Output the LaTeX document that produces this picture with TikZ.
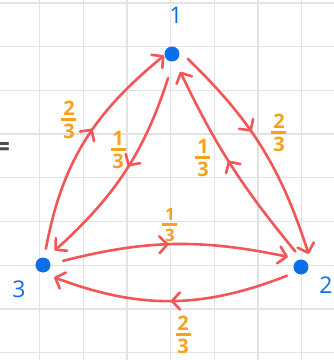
\documentclass[tikz,border=0pt]{standalone}
\usepackage{fontspec}
\setmainfont{Open Sans}
\usepackage{xcolor}
\usepackage{tikz}
\usetikzlibrary{arrows.meta,positioning,decorations.markings}

\definecolor{edgered}{HTML}{F25757}
\definecolor{fracorange}{HTML}{F7A21B}
\definecolor{dotblue}{HTML}{0A6FE8}
\definecolor{gridgray}{HTML}{E3E3E3}

\newcommand{\frc}[2]{$\vcenter{\hbox to 15pt{\hss#1\hss}\kern2.5pt\hrule height 2.4pt\kern3pt\hbox to 15pt{\hss#2\hss}}$}

\begin{document}
\begin{tikzpicture}[
  x=1pt, y=1pt,
  dot/.style={circle, fill=dotblue, minimum size=15pt, inner sep=0pt, outer sep=9pt},
  num/.style={text=dotblue, font=\fontsize{23}{24}\selectfont},
  frac/.style={text=fracorange, font=\fontsize{20}{24}\selectfont\bfseries, inner sep=0pt},
  edge/.style={draw=edgered, line width=2.6pt, line cap=round, -{Straight Barb[length=8pt,width=17pt,round]}},
  midarr/.style={postaction={decorate, decoration={markings, mark=at position #1 with {\arrow{Straight Barb[length=8pt,width=17pt,round]}}}}},
  midarr/.default=0.5,
  gridline/.style={draw=gridgray, line width=1.3pt}
]
\useasboundingbox (0,0) rectangle (334,360);
\clip (0,0) rectangle (334,360);
\fill[white] (0,0) rectangle (334,360);

% grid paper
\foreach \gx in {39.6,83.3,127,170.7,214.4,258.1,301.8}
  \draw[gridline] (\gx,0) -- (\gx,360);
\foreach \gy in {7.4,51.1,94.8,138.5,182.2,225.9,269.6,313.3,357}
  \draw[gridline] (0,\gy) -- (334,\gy);

\node[text=black!70, font=\fontsize{28}{28}\selectfont\bfseries] (eq) at (2,211) {=};

% states
\node[dot] (n1) at (172,306) {};
\node[dot] (n2) at (301,93) {};
\node[dot] (n3) at (43,95) {};
\node[num] (t1) at (176,345) {1};
\node[num] (t2) at (326,75) {2};
\node[num] (t3) at (19,71) {3};

% transitions
\draw[edge, midarr=0.58, shorten >=-9pt] (n3.80) to[bend left=20] (n1.206);
\draw[edge, midarr=0.48, shorten <=8pt, shorten >=2pt] (n1.265) to[bend left=15] (n3.52);
\draw[edge, midarr=0.42, shorten >=-2pt] (n1.-17) to[bend left=14] (n2.65);
\draw[edge, midarr=0.52, shorten >=3pt] (n2.110) to[bend left=7] (n1.-65);
\draw[edge, midarr=0.48, shorten <=4pt] (n3.11) to[bend left=13] (n2.142);
\draw[edge, midarr=0.5] (n2.212) to[bend left=21] (n3.-48);

% probabilities
\node[frac] (l31) at (69,240) {\frc{2}{3}};
\node[frac] (l13) at (118,210) {\frc{1}{3}};
\node[frac] (l21) at (203,202) {\frc{1}{3}};
\node[frac] (l12) at (279,227) {\frc{2}{3}};
\node[frac, font=\fontsize{17}{20}\selectfont\bfseries] (l32) at (170,135) {\frc{1}{3}};
\node[frac] (l23) at (183,25) {\frc{2}{3}};
\end{tikzpicture}
\end{document}
